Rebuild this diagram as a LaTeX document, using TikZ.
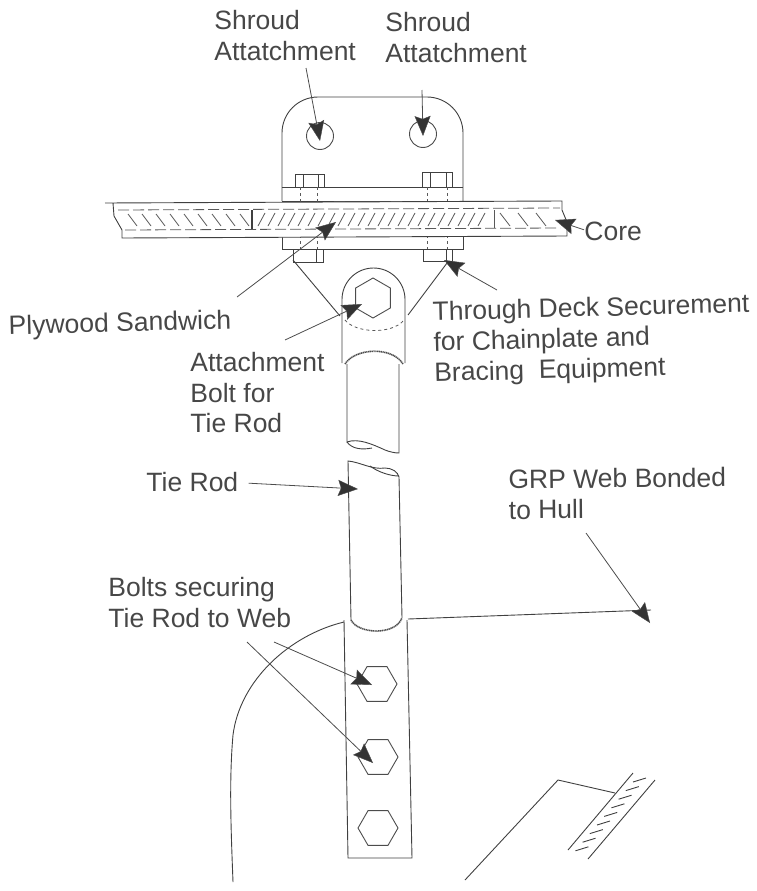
\documentclass[tikz,border=0pt]{standalone}
\usepackage{fontspec}
\setmainfont{Liberation Sans}
\usetikzlibrary{arrows.meta,shapes.geometric}

\begin{document}
\begin{tikzpicture}[x=1pt, y=-1pt, line width=.9pt,
        part/.style={draw=black!75},
        thin part/.style={draw=black!65, line width=.8pt},
        weld/.style={draw=black!70, line width=1.6pt, dash pattern=on 1.2pt off .6pt},
        label/.style={anchor=north west, inner sep=0pt, align=left, text=black!72,
            font=\fontsize{26.5}{30.5}\selectfont},
        callout/.style={draw=black!70, line width=.8pt, -{Stealth[length=20pt,width=16pt,inset=3pt,fill=black!80,line width=.4pt]}},
        holeshape/.style={draw=black!70, circle, inner sep=0pt, minimum size=27pt},
        hexshape/.style={draw=black!70, regular polygon, regular polygon sides=6, inner sep=0pt, minimum size=40pt}]
    \useasboundingbox (0,0) rectangle (757,891);
    % labels
    \node[label] (shroudA) at (214,10) {Shroud\\[.5pt]Attatchment};
    \node[label] (shroudB) at (385,12) {Shroud\\[.5pt]Attatchment};
    \node[label] (core) at (584,222) {Core};
    \node[label, rotate=1.5] (plywood) at (8,315) {Plywood Sandwich};
    \node[label, rotate=1.5] (through) at (432,301) {Through Deck Securement\\for Chainplate and\\Bracing\ \ Equipment};
    \node[label] (bolt) at (190,352) {Attachment\\Bolt for\\Tie Rod};
    \node[label] (tierod) at (146,472) {Tie Rod};
    \node[label, rotate=.5] (grp) at (508,469) {GRP Web Bonded\\to Hull};
    \node[label] (securing) at (108,577) {Bolts securing\\Tie Rod to Web};
    % chainplate
    \draw[part, rounded corners=36pt] (282,201) -- (282,97) -- (463,97) -- (463,201);
    \draw[part] (282,187) -- (463,187) (282,201) -- (463,201);
    \draw[part] (282,237) -- (282,249) -- (463,249) -- (463,237);
    \node[holeshape] (holeA) at (320,136) {};
    \node[holeshape] (holeB) at (423,134) {};
    \draw[part] (295,187) -- (295,174) -- (324,174) -- (324,187) (303,174) -- (303,187) (318,174) -- (318,187);
    \draw[part] (422,187) -- (422,172) -- (452,172) -- (452,187) (430,172) -- (430,187) (446,172) -- (446,187);
    \draw[part] (293,249) -- (293,262) -- (323,262) -- (323,249) (316,249) -- (316,262);
    \draw[part] (423,249) -- (423,261) -- (452,261) -- (452,249) (446,249) -- (446,261);
    \draw[thin part, dashed] (300,187) -- (300,249) (317,187) -- (317,249) (427,187) -- (427,249) (447,187) -- (447,249);
    % deck
    \draw[part, fill=white] (105,203) -- (562,201) -- (562,210) -- (567,222) -- (567,236) -- (122,238) -- (122,230) -- (114,216) -- (113,203);
    \draw[thin part, dash pattern=on 11pt off 4pt] (118,210) -- (560,208) (125,230) -- (560,228);
    \foreach \hx in {128,142,...,240} \draw[thin part] (\hx,214) -- (\hx+9,226);
    \foreach \hx in {258,268,...,486} \draw[thin part] (\hx,226) -- (\hx+7,213);
    \foreach \hx in {500,518,536} \draw[thin part] (\hx,213) -- (\hx+10,226);
    \draw[part, line width=1.2pt] (252,210) -- (252,229);
    \draw[thin part] (494,210) -- (494,228);
    % tie rod, upper part
    \draw[part] (342,363) -- (342,299.5) arc[start angle=180, end angle=360, radius=31.5] -- (405,363);
    \node[hexshape, shape border rotate=30] (hexEye) at (373,298) {};
    \draw[thin part, dashed] (345,320) .. controls (355,333) and (392,335) .. (404,320);
    \draw[weld] (345,364) .. controls (355,348) and (392,346) .. (403,364);
    \draw[part] (347,364) -- (347,442) .. controls (358,438) and (372,444) .. (385,450) .. controls (390,452) and (395,453) .. (399,453) -- (399,364);
    \draw[part] (347,442) .. controls (352,449) and (362,450) .. (372,448);
    % tie rod, lower part
    \draw[part] (351,620) -- (348,461) .. controls (360,462) and (372,470) .. (385,468) .. controls (392,468) and (398,472) .. (399,477) -- (402,618);
    \draw[part] (370,466) .. controls (378,472) and (390,476) .. (399,476);
    \draw[weld] (351,620) .. controls (358,634) and (395,636) .. (402,618);
    \draw[part] (344,620) -- (348,858) -- (412,858) -- (407,620);
    \node[hexshape] (hexA) at (377,684) {};
    \node[hexshape] (hexB) at (378,757) {};
    \node[hexshape] (hexC) at (378,828) {};
    % hull and web
    \draw[part] (344,622) .. controls (290,635) and (240,680) .. (233,735) .. controls (229,780) and (231,830) .. (233,882);
    \draw[part] (408,619) -- (651,610);
    \draw[part] (465,880) -- (558,780) -- (615,793);
    \draw[part] (633,773) -- (568,850) (655,780) -- (588,859);
    \foreach \hs in {0,1,...,8} \draw[part] ({646-\hs*7.2},{778+\hs*8.6}) -- ({633-\hs*7.2},{782+\hs*8.6});
    % bracing lines
    \draw[part] (293,260) -- (340,316);
    \draw[part] (447,263) -- (408,315);
    % arrows
    \coordinate (tipShroudA) at (320,141);
    \coordinate (tipShroudB) at (423,136);
    \coordinate (tipCore) at (555,220);
    \coordinate (tipPlywood) at (336,222);
    \coordinate (tipThrough) at (444,260);
    \coordinate (tipBolt) at (362,304);
    \coordinate (tipTieRod) at (358,489);
    \coordinate (tipGrp) at (650,623);
    \coordinate (tipHexA) at (372,685);
    \coordinate (tipHexB) at (373,763);
    \draw[callout] (306,68) -- (tipShroudA);
    \draw[callout] (422,90) -- (tipShroudB);
    \draw[callout] (core.west) ++(0,-2) -- (tipCore);
    \draw[callout] (237,297) -- (tipPlywood);
    \draw[callout] (497,290) -- (tipThrough);
    \draw[callout] (285,340) -- (tipBolt);
    \draw[callout] (tierod.east) ++(10,1) -- (tipTieRod);
    \draw[callout] (586,533) -- (tipGrp);
    \draw[callout] (274,642) -- (tipHexA);
    \draw[callout] (247,642) -- (tipHexB);
\end{tikzpicture}
\end{document}
